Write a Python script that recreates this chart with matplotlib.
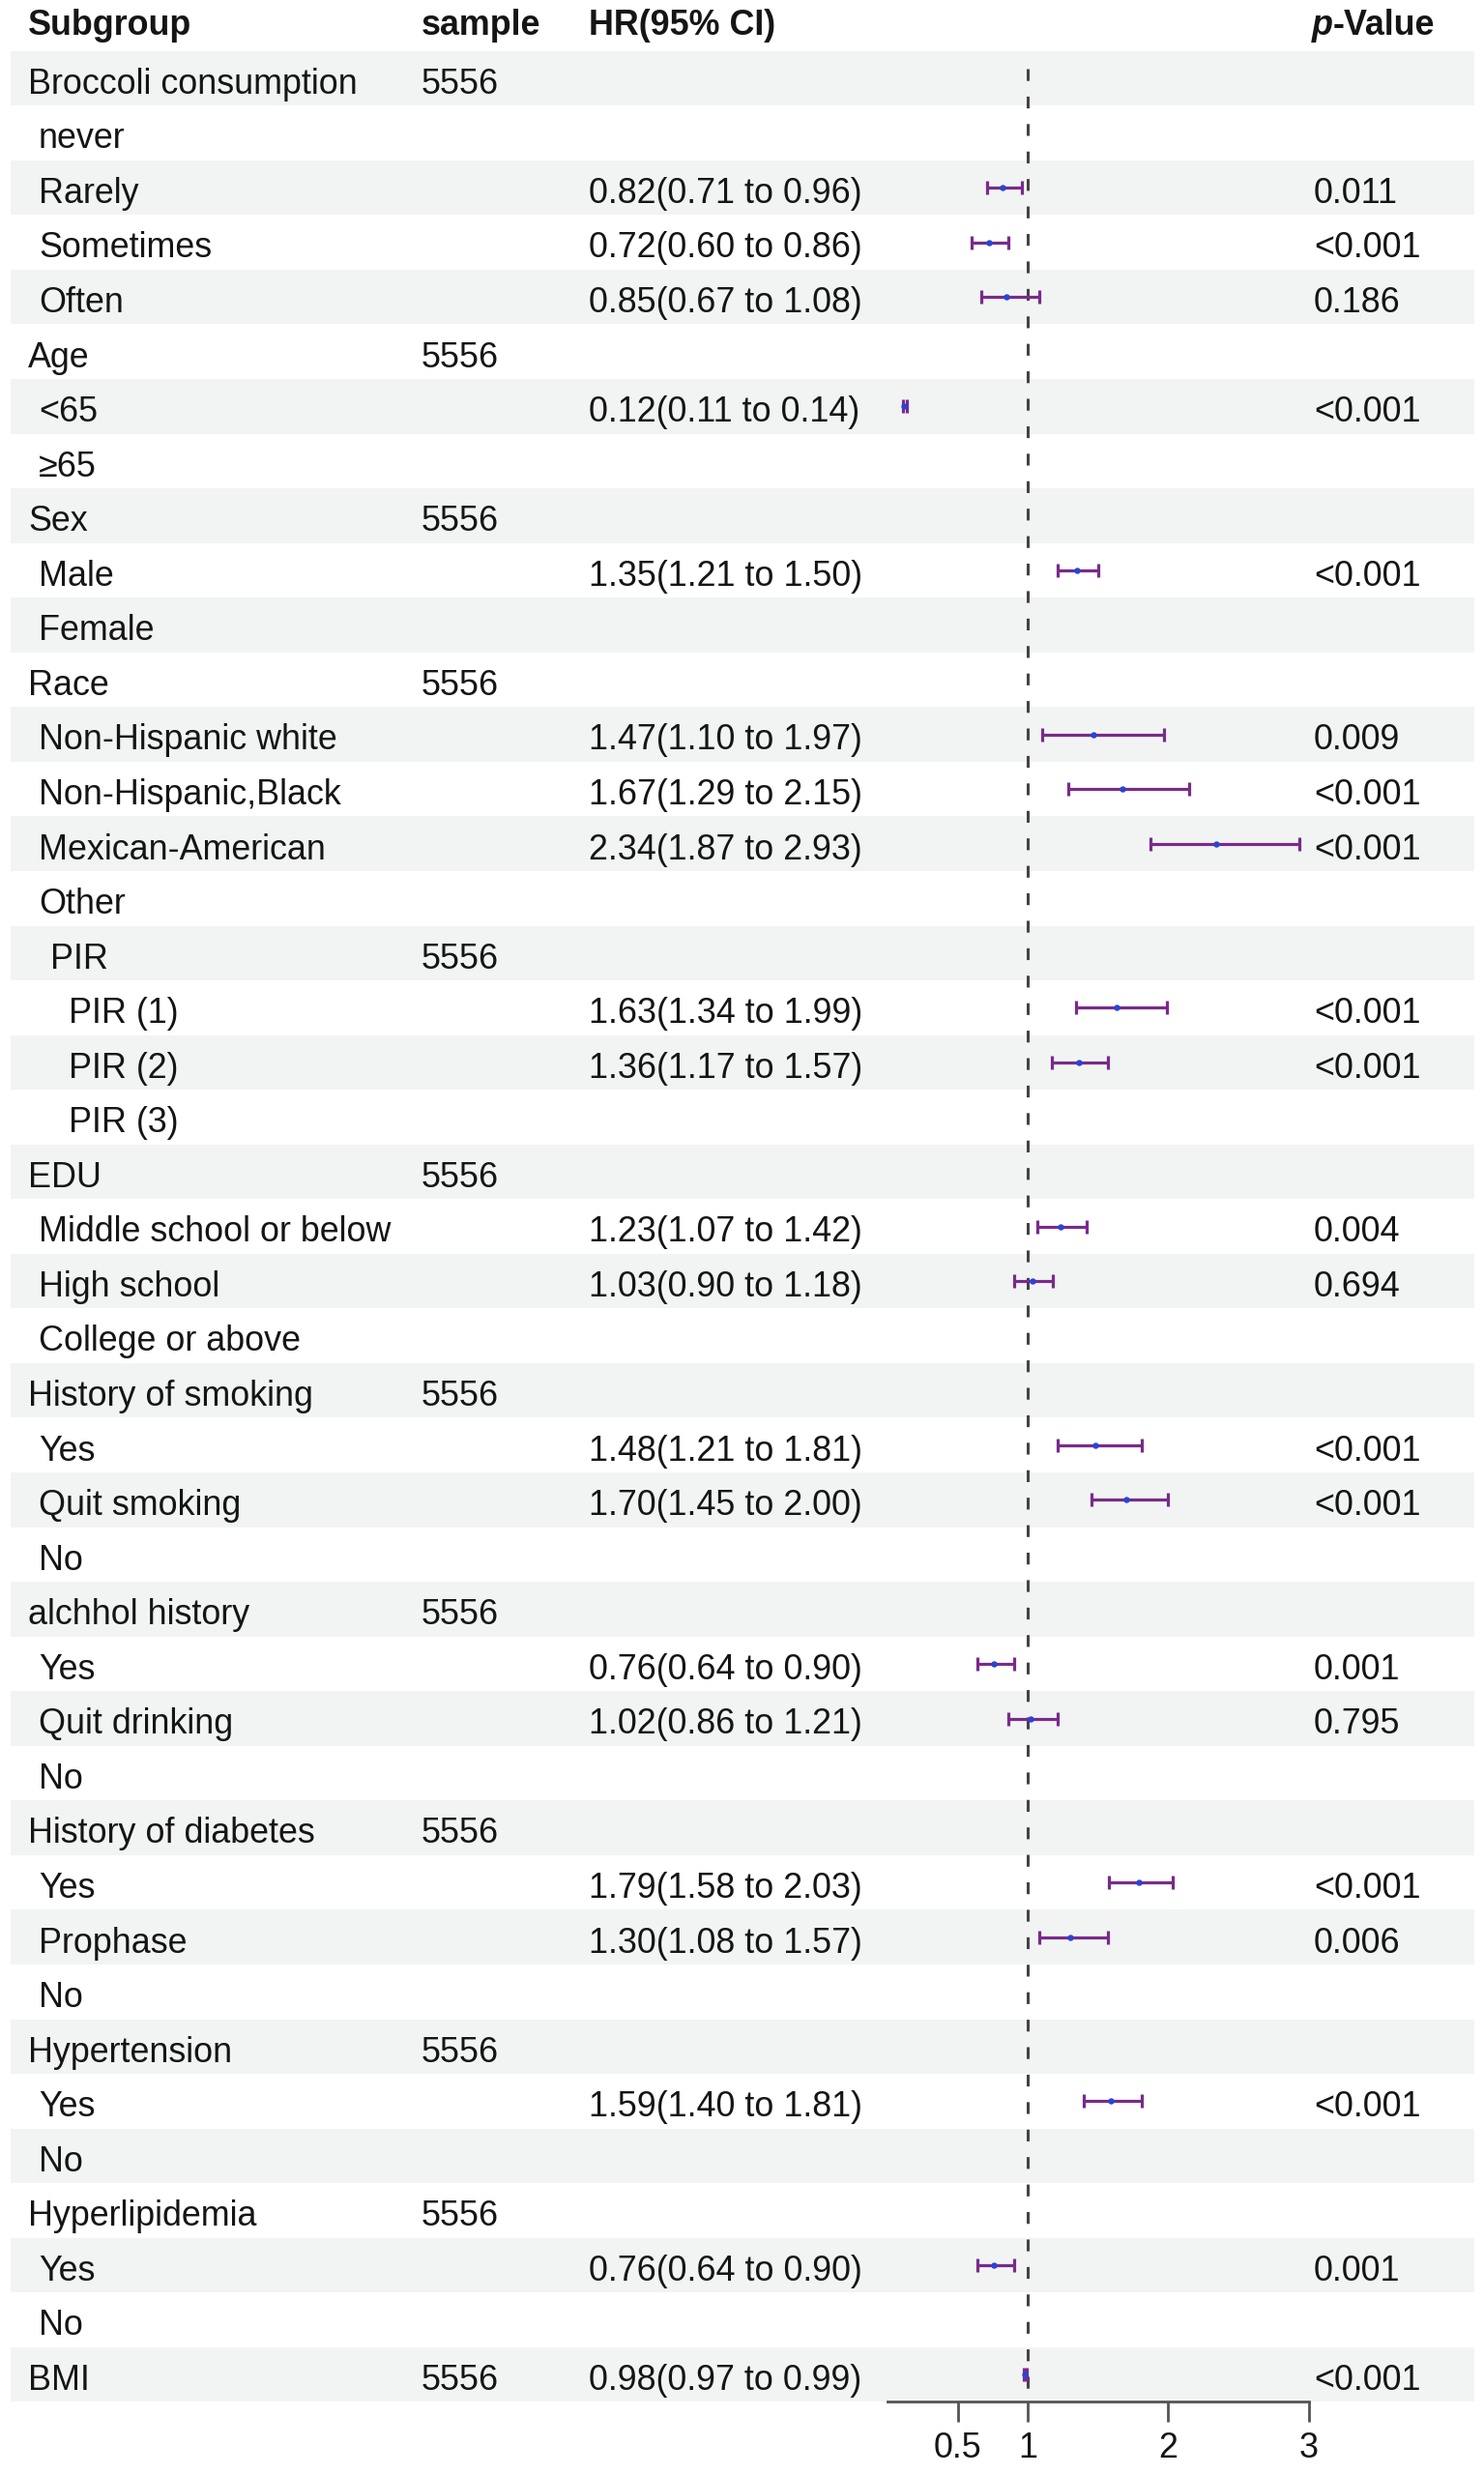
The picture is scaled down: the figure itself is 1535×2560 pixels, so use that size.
import numpy as np
import matplotlib
matplotlib.use("Agg")
import matplotlib.pyplot as plt
from matplotlib.patches import Rectangle
from matplotlib.transforms import blended_transform_factory

plt.rcParams['font.family'] = ['Liberation Sans', 'DejaVu Sans']

# 表格数据
subgroups = ["Broccoli consumption", "never", "Rarely", "Sometimes", "Often",
             "Age", "<65", "≥65",
             "Sex", "Male", "Female",
             "Race", "Non-Hispanic white", "Non-Hispanic,Black", "Mexican-American", "Other",
             "PIR", "PIR (1)", "PIR (2)", "PIR (3)",
             "EDU", "Middle school or below", "High school", "College or above",
             "History of smoking", "Yes", "Quit smoking", "No",
             "alchhol history", "Yes", "Quit drinking", "No",
             "History of diabetes", "Yes", "Prophase", "No",
             "Hypertension", "Yes", "No",
             "Hyperlipidemia", "Yes", "No",
             "BMI"]
indent = [0, 1, 1, 1, 1,
          0, 1, 1,
          0, 1, 1,
          0, 1, 1, 1, 1,
          2, 3, 3, 3,
          0, 1, 1, 1,
          0, 1, 1, 1,
          0, 1, 1, 1,
          0, 1, 1, 1,
          0, 1, 1,
          0, 1, 1,
          0]
samples = ["5556", "", "", "", "",
           "5556", "", "",
           "5556", "", "",
           "5556", "", "", "", "",
           "5556", "", "", "",
           "5556", "", "", "",
           "5556", "", "", "",
           "5556", "", "", "",
           "5556", "", "", "",
           "5556", "", "",
           "5556", "", "",
           "5556"]
hr = [None, None, 0.82, 0.72, 0.85,
      None, 0.12, None,
      None, 1.35, None,
      None, 1.47, 1.67, 2.34, None,
      None, 1.63, 1.36, None,
      None, 1.23, 1.03, None,
      None, 1.48, 1.70, None,
      None, 0.76, 1.02, None,
      None, 1.79, 1.30, None,
      None, 1.59, None,
      None, 0.76, None,
      0.98]
ci_low = [None, None, 0.71, 0.60, 0.67,
          None, 0.11, None,
          None, 1.21, None,
          None, 1.10, 1.29, 1.87, None,
          None, 1.34, 1.17, None,
          None, 1.07, 0.90, None,
          None, 1.21, 1.45, None,
          None, 0.64, 0.86, None,
          None, 1.58, 1.08, None,
          None, 1.40, None,
          None, 0.64, None,
          0.97]
ci_high = [None, None, 0.96, 0.86, 1.08,
           None, 0.14, None,
           None, 1.50, None,
           None, 1.97, 2.15, 2.93, None,
           None, 1.99, 1.57, None,
           None, 1.42, 1.18, None,
           None, 1.81, 2.00, None,
           None, 0.90, 1.21, None,
           None, 2.03, 1.57, None,
           None, 1.81, None,
           None, 0.90, None,
           0.99]
p_values = ["", "", "0.011", "<0.001", "0.186",
            "", "<0.001", "",
            "", "<0.001", "",
            "", "0.009", "<0.001", "<0.001", "",
            "", "<0.001", "<0.001", "",
            "", "0.004", "0.694", "",
            "", "<0.001", "<0.001", "",
            "", "0.001", "0.795", "",
            "", "<0.001", "0.006", "",
            "", "<0.001", "",
            "", "0.001", "",
            "<0.001"]
x_ticks = [0.5, 1, 2, 3]
x_tick_labels = ["0.5", "1", "2", "3"]

W, H = 1535, 2560
FS = 25.8
ROW0, PITCH = 81, 56.55
TEXT_COLOR = '#151515'


def fx(px):
    """像素 -> 图形坐标"""
    return px / W


def main():
    n = len(subgroups)
    rows = np.arange(n)
    hr_a = np.array(hr, dtype=float)
    lo_a = np.array(ci_low, dtype=float)
    hi_a = np.array(ci_high, dtype=float)

    fig = plt.figure(figsize=(W / 100, H / 100), dpi=100)
    top_px = ROW0 - 0.5 * PITCH
    bot_px = ROW0 + (n - 0.5) * PITCH
    ax = fig.add_axes([fx(918), 1 - bot_px / H, fx(1353.7 - 918), (bot_px - top_px) / H])
    ax.patch.set_visible(False)
    ax.set_xlim(0, 3)
    ax.set_ylim(n - 0.5, -0.5)

    trans = blended_transform_factory(fig.transFigure, ax.transData)

    # 隔行底色
    for i in range(0, n, 2):
        fig.add_artist(Rectangle((fx(11), i - 0.5), fx(1525 - 11), 1, transform=trans,
                                 facecolor='#F2F4F4', edgecolor='none', zorder=-1))

    # 参考线
    ax.vlines(1, -0.18, n - 0.5, colors='#444444', linestyles=(0, (4, 5.3)), lw=2.2, zorder=1)

    # 置信区间
    m = ~np.isnan(hr_a)
    ax.errorbar(hr_a[m], rows[m], xerr=[hr_a[m] - lo_a[m], hi_a[m] - hr_a[m]], fmt='o',
                ms=3.6, mfc='#2745D6', mec='#2745D6', ecolor='#7A2A8C',
                elinewidth=2.3, capsize=5, capthick=2.3, zorder=3)

    # 坐标轴
    for side in ['top', 'left', 'right']:
        ax.spines[side].set_visible(False)
    ax.spines['bottom'].set_bounds(0, 3)
    ax.spines['bottom'].set_color('#555555')
    ax.spines['bottom'].set_linewidth(2)
    ax.set_yticks([])
    ax.set_xticks(x_ticks)
    ax.set_xticklabels(x_tick_labels)
    ax.tick_params(axis='x', length=15, width=2, color='#555555', labelsize=FS,
                   labelcolor=TEXT_COLOR, pad=7)

    # 表格文字
    indent_px = {0: 29, 1: 40, 2: 52, 3: 71}
    for i in range(n):
        y = i + 0.28
        ax.text(fx(indent_px[indent[i]]), y, subgroups[i], transform=trans, va='baseline',
                fontsize=FS, color=TEXT_COLOR)
        if samples[i]:
            ax.text(fx(436), y, samples[i], transform=trans, va='baseline',
                    fontsize=FS, color=TEXT_COLOR)
        if m[i]:
            label = f"{hr_a[i]:.2f}({lo_a[i]:.2f} to {hi_a[i]:.2f})"
            ax.text(fx(609), y, label, transform=trans, va='baseline',
                    fontsize=FS, color=TEXT_COLOR)
        if p_values[i]:
            ax.text(fx(1359), y, p_values[i], transform=trans, va='baseline',
                    fontsize=FS, color=TEXT_COLOR)

    # 表头
    hy = -0.8
    for x, t in [(29, "Subgroup"), (436, "sample"), (609, "HR(95% CI)")]:
        ax.text(fx(x), hy, t, transform=trans, va='baseline', fontsize=FS,
                fontweight='bold', color=TEXT_COLOR)
    p_txt = ax.text(fx(1357), hy, "p", transform=trans, va='baseline', fontsize=FS,
                    fontweight='bold', fontstyle='italic', color=TEXT_COLOR)
    ax.annotate("-Value", xy=(1, 0), xycoords=p_txt, va='bottom', ha='left',
                fontsize=FS, fontweight='bold', color=TEXT_COLOR)

    fig.savefig("out.png", dpi=100)


if __name__ == "__main__":
    main()
